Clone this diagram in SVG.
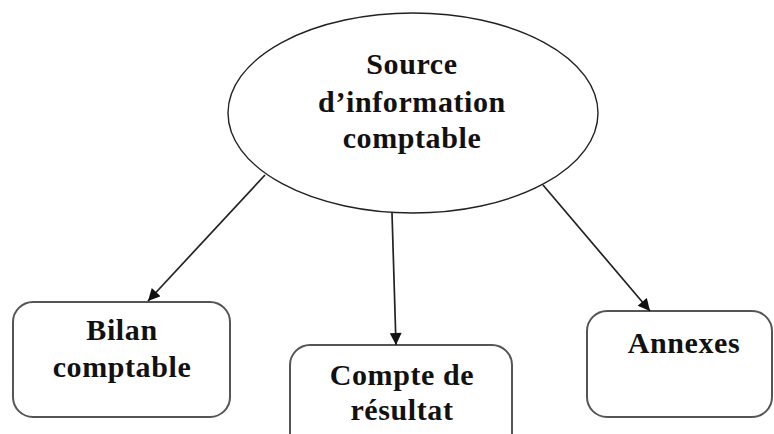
<svg xmlns="http://www.w3.org/2000/svg" width="774" height="434" viewBox="0 0 774 434">
  <style>
    .label { font-family: "Liberation Serif", "Times New Roman", serif; font-weight: bold; font-size: 30px; letter-spacing: 0.6px; fill: #111; text-anchor: middle; }
    .box { fill: #fff; stroke: #555; stroke-width: 2; }
    .oval { fill: #fff; stroke: #222; stroke-width: 1.4; }
    .edge { fill: none; stroke: #222; stroke-width: 1.7; }
  </style>
  <defs>
    <marker id="arrow" viewBox="0 0 10 10" refX="10" refY="5" markerWidth="13" markerHeight="12" markerUnits="userSpaceOnUse" orient="auto">
      <path d="M0,0 L10,5 L0,10 z" fill="#111"/>
    </marker>
  </defs>
  <rect width="774" height="434" fill="#fff"/>

  <g id="source">
    <ellipse class="oval" cx="413" cy="113" rx="185" ry="100"/>
    <text class="label" x="412" y="74">Source</text>
    <text class="label" x="412" y="112">d’information</text>
    <text class="label" x="412" y="148">comptable</text>
  </g>

  <g id="bilan">
    <rect class="box" x="13" y="302" width="217" height="115" rx="20"/>
    <text class="label" x="122" y="340">Bilan</text>
    <text class="label" x="122" y="377">comptable</text>
  </g>

  <g id="compte">
    <rect class="box" x="290" y="345" width="222" height="110" rx="20"/>
    <text class="label" x="402" y="385">Compte de</text>
    <text class="label" x="402" y="420">résultat</text>
  </g>

  <g id="annexes">
    <rect class="box" x="587" y="311" width="185" height="106" rx="20"/>
    <text class="label" x="684" y="353">Annexes</text>
  </g>

  <g id="connectors">
    <line class="edge" x1="265" y1="175" x2="148" y2="301" marker-end="url(#arrow)"/>
    <line class="edge" x1="392" y1="213" x2="396" y2="345" marker-end="url(#arrow)"/>
    <line class="edge" x1="543" y1="185" x2="650" y2="311" marker-end="url(#arrow)"/>
  </g>
</svg>
